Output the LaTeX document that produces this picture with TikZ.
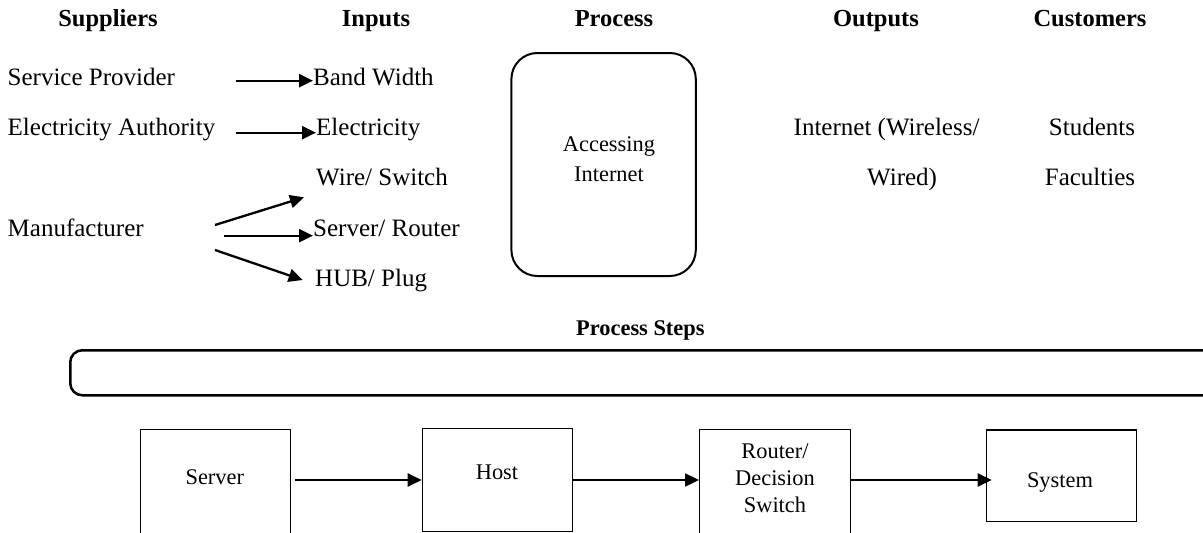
\documentclass[tikz,border=0pt]{standalone}
\usepackage{fontspec}
\setmainfont{Liberation Serif}
\usetikzlibrary{arrows.meta}
\begin{document}
\begin{tikzpicture}[x=1pt,y=-1pt,
  hdr/.style={font=\bfseries\fontsize{24.5}{30}\selectfont, inner sep=0pt, anchor=base},
  txt/.style={font=\fontsize{25}{30}\selectfont, inner sep=0pt, anchor=base west},
  boxtxt/.style={font=\fontsize{22.4}{27}\selectfont, inner sep=0pt, align=center},
  arr/.style={line width=2.3pt, -{Triangle[length=14pt,width=13pt]}},
  stepbox/.style={draw, line width=1.2pt, minimum width=150.5pt, anchor=north west, inner sep=0pt},
]
\clip (0,0) rectangle (1203,533);

% column headings
\node[hdr] (hsup) at (108,26) {Suppliers};
\node[hdr] (hinp) at (376,26) {Inputs};
\node[hdr] (hproc) at (614,26) {Process};
\node[hdr] (hout) at (876,26) {Outputs};
\node[hdr] (hcus) at (1090,26) {Customers};

% suppliers
\node[txt] (sp) at (7.5,85) {Service Provider};
\node[txt] (ea) at (7.5,135) {Electricity Authority};
\node[txt] (mf) at (7.5,236.7) {Manufacturer};

% inputs
\node[txt] (bw) at (313,85) {Band Width};
\node[txt] (el) at (316,135) {Electricity};
\node[txt] (ws) at (316,185) {Wire/ Switch};
\node[txt] (sr) at (313,236.7) {Server/ Router};
\node[txt] (hp) at (315,286.7) {HUB/ Plug};

% supplier to input arrows
\coordinate (s1) at (236,80.7);
\coordinate (s2) at (236,132.7);
\coordinate (m1) at (215,225);
\coordinate (m2) at (224,235.7);
\coordinate (m3) at (215,250);
\draw[arr] (s1) -- (bw.west |- s1);
\draw[arr] (s2) -- (el.west |- s2);
\draw[arr] (m1) -- ([shift={(-12,12.3)}]ws.base west);
\draw[arr] (m2) -- (sr.west |- m2);
\draw[arr] (m3) -- ([shift={(-12.3,-6.7)}]hp.base west);

% process
\node[draw, line width=2pt, rounded corners=26pt, minimum width=184.4pt,
      minimum height=223pt, inner sep=0pt] (proc) at (603.6,164.5) {};
\node[boxtxt, font=\fontsize{22.4}{30}\selectfont] (proctxt) at (609,159) {Accessing\\Internet};

% outputs and customers
\node[txt] (out1) at (793.5,135) {Internet (Wireless/};
\node[txt] (out2) at (867,185) {Wired)};
\node[txt, anchor=base] (stu) at (1092,135) {Students};
\node[txt, anchor=base] (fac) at (1090,185) {Faculties};

% process steps
\node[hdr, font=\bfseries\fontsize{22.4}{27}\selectfont, anchor=base west] (steps) at (576,335) {Process Steps};
\node[draw, line width=2.5pt, rounded corners=12pt, minimum width=1180pt,
      minimum height=45pt, anchor=north west, inner sep=0pt] (bar) at (69,349) {};

\coordinate (lane) at (0,480);
\node[stepbox, minimum height=115pt] (server) at (139.5,429) {};
\node[stepbox, minimum height=103pt] (host) at (421.7,427.7) {};
\node[stepbox, minimum height=115pt] (router) at (699,429) {};
\node[stepbox, minimum height=91.7pt] (system) at (985.7,429.3) {};

\node[boxtxt] (servert) at (214.8,477.5) {Server};
\node[boxtxt] (hostt) at (497,472.5) {Host};
\node[boxtxt] (routert) at (775,478.5) {Router/\\Decision\\Switch};
\node[boxtxt] (systemt) at (1060,482) {System};

\draw[arr, shorten <=4pt] (server.east |- lane) -- (host.west |- lane);
\draw[arr] (host.east |- lane) -- (router.west |- lane);
\draw[arr, shorten >=-6pt] (router.east |- lane) -- (system.west |- lane);
\end{tikzpicture}
\end{document}
